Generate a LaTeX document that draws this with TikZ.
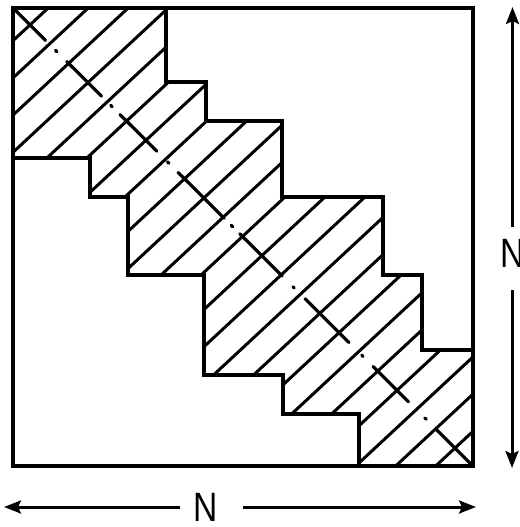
\documentclass[tikz,border=0pt]{standalone}
\usepackage{fontspec}
\setmainfont{Liberation Sans}
\usetikzlibrary{calc,arrows.meta}
\begin{document}
\begin{tikzpicture}[x=1pt,y=-1pt,
  frame/.style={line width=3.4pt, line join=miter},
  hatch/.style={line width=3pt},
  axisline/.style={line width=3.2pt, line cap=round},
  dimarrow/.style={line width=3pt, -{Stealth[length=17pt,width=13pt,inset=3pt]}},
  lab/.style={font=\fontsize{41}{41}\selectfont, xscale=0.82, inner sep=0pt}]
\useasboundingbox (0,0) rectangle (519,527);
\fill[white] (0,0) rectangle (519,527);
\coordinate (A) at (13,8);
\coordinate (B) at (473,466);
% hatching of the band
\begin{scope}
\clip (13,8) -- (166,8) -- (166,82) -- (206,82) -- (206,121) -- (282,121) -- (282,197)
  -- (383,197) -- (383,275) -- (422,275) -- (422,350) -- (473,350) -- (473,466)
  -- (359,466) -- (359,414) -- (283,414) -- (283,375) -- (204,375) -- (204,275)
  -- (128,275) -- (128,197) -- (90,197) -- (90,158) -- (13,158) -- cycle;
\foreach \k in {0,...,22}{
  \pgfmathsetmacro\c{52.8+37.2*\k}
  \pgfmathsetmacro\cc{\c-558}
  \draw[hatch] (0,\c) -- (600,\cc);
}
\end{scope}
% band outline
\draw[frame] (13,8) -- (166,8) -- (166,82) -- (206,82) -- (206,121) -- (282,121) -- (282,197)
  -- (383,197) -- (383,275) -- (422,275) -- (422,350) -- (473,350) -- (473,466)
  -- (359,466) -- (359,414) -- (283,414) -- (283,375) -- (204,375) -- (204,275)
  -- (128,275) -- (128,197) -- (90,197) -- (90,158) -- (13,158) -- cycle;
% outer square
\draw[frame] (A) rectangle (B);
% dash-dot diagonal
\foreach \s/\e in {0/46,60/62,76/125,138/140,151/203,218/220,233/298,308/310,320/380,395/397,412/474,492/494,508/558,581/583,597/649}{
  \draw[axisline] ($(A)!\s pt!(B)$) -- ($(A)!\e pt!(B)$);
}
% dimension N (vertical)
\node[lab] (NV) at (512.5,253) {N};
\coordinate (vtop) at (512.5,7);
\coordinate (vtopstart) at (512.5,227);
\coordinate (vbotstart) at (512,290);
\coordinate (vbot) at (512,468);
\draw[dimarrow] (vtopstart) -- (vtop);
\draw[dimarrow] (vbotstart) -- (vbot);
% dimension N (horizontal)
\node[lab] (NH) at (205.5,507) {N};
\coordinate (hleft) at (4,507);
\coordinate (hleftstart) at (180,507);
\coordinate (hrightstart) at (243,507);
\coordinate (hright) at (476,507);
\draw[dimarrow] (hleftstart) -- (hleft);
\draw[dimarrow] (hrightstart) -- (hright);
\end{tikzpicture}
\end{document}
